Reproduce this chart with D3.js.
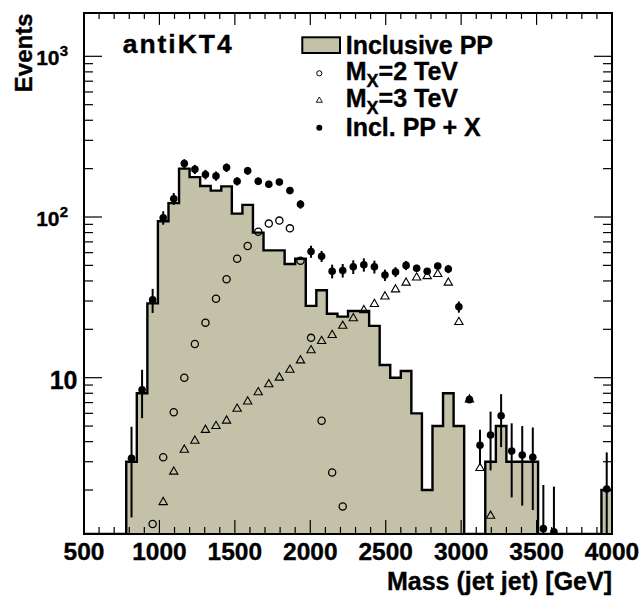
<!DOCTYPE html>
<html>
<head>
<meta charset="utf-8">
<script src="https://cdn.jsdelivr.net/npm/d3@7"></script>
<style>
  body { margin: 0; background: #fff; }
  text { font-family: 'Liberation Sans', Arial, sans-serif; font-weight: bold; fill: #000;
         stroke: #000; stroke-width: 0.35px; }
</style>
</head>
<body>
<div id="chart"></div>
<script>
// bin edges of the dijet mass histogram (GeV)
const massEdges = [500, 570, 640, 710, 780, 850, 920, 990, 1060, 1130,
    1200, 1270, 1340, 1410, 1480, 1550, 1620, 1690, 1760, 1830,
    1900, 1970, 2040, 2110, 2180, 2250, 2320, 2390, 2460, 2530,
    2600, 2670, 2740, 2810, 2880, 2950, 3020, 3090, 3160, 3230,
    3300, 3370, 3440, 3510, 3580, 3650, 3720, 3790, 3860, 3930, 4000]

// one value per bin, null = no marker
const inclusivePP = [0, 0, 0, 0, 3, 8, 29, 94, 122, 200,
    177, 156, 146, 155, 105, 119, 80, 62, 62, 51,
    55, 28, 35, 25, 24, 26, 26, 21, 12, 10,
    11, 6, 2, 5, 8, 5, 0, 0, 3, 5,
    3, 3, 3, 0, 0, 0, 0, 0, 0, 2]

const signal2TeV = [null, null, null, null, null, null, 1.23, 3.2, 6.1, 10,
    16.2, 22, 31, 41, 55, 66, 81, 91, 95, 85,
    53.5, 17.7, 5.4, 2.57, 1.58, null, null, null, null, null,
    null, null, null, null, null, null, null, null, null, null,
    null, null, null, null, null, null, null, null, null, null]

const signal3TeV = [null, null, null, null, null, null, null, 1.68, 2.6, 3.56,
    4.05, 4.73, 5.0, 5.4, 6.4, 7.1, 8.1, 9.1, 10, 11.2,
    12.8, 14.8, 16.9, 18.4, 21, 23.4, 26.3, 28.7, 32, 35.4,
    39, 42, 42.8, 44.1, 39, 22.2, 7.3, 2.74, 1.38, null,
    null, null, null, null, null, null, null, null, null, null]

const inclPlusX = [null, null, null, null, 3.15, 8.4, 30.5, 99, 130, 215,
    198, 184, 180, 203, 167, 194, 167, 160, 165, 146,
    120, 61, 57, 46, 46.5, 49, 50.5, 49, 43.5, 45.5,
    50, 48, 46, 49.6, 47.5, 27.6, 7.3, 3.8, 4.4, 5.8,
    3.5, 3.3, 3.2, 1.15, 1.1, null, null, null, null, 2.03]

const inclPlusXErr = [null, null, null, null, 1.8, 2.8, 5.2, 9.5, 11, 14,
    13, 12.5, 12, 12.5, 10, 11, 9, 8, 8, 7,
    7.4, 5.3, 4.5, 4.5, 4.5, 4.8, 4.8, 4.5, 3.5, 3.2,
    3.3, 2.4, 1.4, 2.2, 2.8, 2.2, 0, 0.95, 1.75, 2.1,
    1.7, 1.7, 1.7, 1.0, 1.0, null, null, null, null, 1.4]

const xTicks = [500, 1000, 1500, 2000, 2500, 3000, 3500, 4000]
const yTicks = [10, 100, 1000]
const yTickLabels = ['10', '10|2', '10|3']
const legendLabels = ['Inclusive PP', 'M|X|=2 TeV', 'M|X|=3 TeV', 'Incl. PP + X']

const fillColor = '#c4c1a9'

function drawChart(){
    // 1. Dimensions
    let dimensions = {
        width: 641,
        height: 596,
        margin: { top: 13, right: 29, bottom: 62, left: 84 }
    }
    dimensions.boundedWidth = dimensions.width - dimensions.margin.left - dimensions.margin.right
    dimensions.boundedHeight = dimensions.height - dimensions.margin.top - dimensions.margin.bottom
    const W = dimensions.boundedWidth, H = dimensions.boundedHeight

    // 2. Canvas
    const wrapper = d3.select('#chart').append('svg')
        .attr('width', dimensions.width)
        .attr('height', dimensions.height)
    wrapper.append('rect').attr('width', dimensions.width).attr('height', dimensions.height).attr('fill', '#fff')

    const bounds = wrapper.append('g')
        .attr('transform', `translate(${dimensions.margin.left},${dimensions.margin.top})`)

    bounds.append('clipPath').attr('id', 'frame-clip')
        .append('rect').attr('width', W).attr('height', H)

    // 3. Scales
    const yMin = 1.065, yMax = 1860
    const xScale = d3.scaleLinear().domain([500, 4000]).range([0, W])
    const yScale = d3.scaleLog().domain([yMin, yMax]).range([H, 0])
    const yOf = v => yScale(Math.max(v, yMin))
    const centerOf = i => (massEdges[i] + massEdges[i + 1]) / 2

    // 4. Histogram
    const steps = []
    inclusivePP.forEach((v, i) => {
        steps.push([massEdges[i], v])
        steps.push([massEdges[i + 1], v])
    })
    const plot = bounds.append('g').attr('clip-path', 'url(#frame-clip)')

    plot.append('path')
        .attr('d', d3.area().x(d => xScale(d[0])).y0(H).y1(d => yOf(d[1]))(steps))
        .attr('fill', fillColor)
    plot.append('path')
        .attr('d', d3.line().x(d => xScale(d[0])).y(d => yOf(d[1]))(steps))
        .attr('fill', 'none')
        .attr('stroke', '#000')
        .attr('stroke-width', 2.4)

    // 5. Signal markers
    const tri = d3.symbol().type(d3.symbolTriangle).size(30)
    const idx = arr => arr.map((v, i) => i).filter(i => arr[i] !== null)

    plot.selectAll('.sig2').data(idx(signal2TeV)).join('circle')
        .attr('cx', i => xScale(centerOf(i)))
        .attr('cy', i => yOf(signal2TeV[i]))
        .attr('r', 3.6)
        .attr('fill', 'none')
        .attr('stroke', '#000')
        .attr('stroke-width', 1.3)

    plot.selectAll('.sig3').data(idx(signal3TeV)).join('path')
        .attr('d', tri)
        .attr('transform', i => `translate(${xScale(centerOf(i))},${yOf(signal3TeV[i])})`)
        .attr('fill', 'none')
        .attr('stroke', '#000')
        .attr('stroke-width', 1.1)

    // 6. Incl. PP + X with error bars
    const sumIdx = idx(inclPlusX)
    plot.selectAll('.err').data(sumIdx).join('line')
        .attr('x1', i => xScale(centerOf(i)))
        .attr('x2', i => xScale(centerOf(i)))
        .attr('y1', i => yOf(inclPlusX[i] - inclPlusXErr[i]))
        .attr('y2', i => yOf(inclPlusX[i] + inclPlusXErr[i]))
        .attr('stroke', '#000')
        .attr('stroke-width', 2)
    plot.selectAll('.pt').data(sumIdx).join('circle')
        .attr('cx', i => xScale(centerOf(i)))
        .attr('cy', i => yOf(inclPlusX[i]))
        .attr('r', 3.8)
        .attr('fill', '#000')

    // 7. Frame and ticks (ROOT style, ticks inside)
    const ticks = bounds.append('g').attr('stroke', '#000').attr('stroke-width', 1.2)
    const xMinor = d3.range(500, 4001, 100)
    xMinor.forEach(m => {
        const len = m % 500 === 0 ? 14 : 7
        const x = xScale(m)
        ticks.append('line').attr('x1', x).attr('x2', x).attr('y1', H).attr('y2', H - len)
        ticks.append('line').attr('x1', x).attr('x2', x).attr('y1', 0).attr('y2', len * 0.85)
    })
    const yMinor = []
    ;[1, 10, 100, 1000].forEach(d => d3.range(1, 10).forEach(k => yMinor.push(d * k)))
    yMinor.filter(v => v >= yMin && v <= yMax).forEach(v => {
        const len = yTicks.includes(v) ? 18 : 9
        const y = yScale(v)
        ticks.append('line').attr('x1', 0).attr('x2', len).attr('y1', y).attr('y2', y)
        ticks.append('line').attr('x1', W).attr('x2', W - len).attr('y1', y).attr('y2', y)
    })

    bounds.append('rect')
        .attr('width', W).attr('height', H)
        .attr('fill', 'none')
        .attr('stroke', '#000')
        .attr('stroke-width', 2)

    // tick labels
    bounds.selectAll('.xlab').data(xTicks).join('text')
        .attr('x', d => xScale(d))
        .attr('y', H + 26)
        .attr('text-anchor', 'middle')
        .attr('font-size', 24.5)
        .text(d => d)

    yTicks.forEach((v, i) => {
        const parts = yTickLabels[i].split('|')
        const y = yScale(v)
        if (parts.length === 1) {
            bounds.append('text')
                .attr('x', -6.5).attr('y', y + 11.5)
                .attr('text-anchor', 'end')
                .attr('font-size', 25)
                .text(parts[0])
        } else {
            bounds.append('text')
                .attr('x', -24.5).attr('y', y + 8.5)
                .attr('text-anchor', 'end')
                .attr('font-size', 21)
                .text(parts[0])
            bounds.append('text')
                .attr('x', -24.3).attr('y', y - 0.5)
                .attr('font-size', 15)
                .text(parts[1])
        }
    })

    // axis titles
    wrapper.append('text')
        .attr('x', 612).attr('y', 590)
        .attr('text-anchor', 'end')
        .attr('font-size', 25)
        .text('Mass (jet jet) [GeV]')
    wrapper.append('text')
        .attr('transform', 'translate(32,13.5) rotate(-90)')
        .attr('text-anchor', 'end')
        .attr('font-size', 24)
        .text('Events')

    wrapper.append('text')
        .attr('x', 122.7).attr('y', 52.7)
        .attr('font-size', 26.5)
        .attr('textLength', 109)
        .text('antiKT4')

    // 8. Legend
    const legend = wrapper.append('g')
    const rowY = [54.3, 79.8, 107.3, 135.5]
    const markX = 319.3
    legend.append('rect')
        .attr('x', 302.3).attr('y', 37.3)
        .attr('width', 37.7).attr('height', 15.7)
        .attr('fill', fillColor)
        .attr('stroke', '#000')
        .attr('stroke-width', 2)
    legend.append('circle')
        .attr('cx', markX).attr('cy', 73.3).attr('r', 2.6)
        .attr('fill', 'none').attr('stroke', '#000').attr('stroke-width', 1)
    legend.append('path')
        .attr('d', d3.symbol().type(d3.symbolTriangle).size(16)())
        .attr('transform', `translate(${markX},100.5)`)
        .attr('fill', 'none').attr('stroke', '#000').attr('stroke-width', 0.9)
    legend.append('circle')
        .attr('cx', markX).attr('cy', 127.7).attr('r', 3)
        .attr('fill', '#000')

    legendLabels.forEach((lab, i) => {
        const parts = lab.split('|')
        const t = legend.append('text')
            .attr('x', 345.7).attr('y', rowY[i])
            .attr('font-size', 25)
        if (parts.length === 1) {
            t.text(lab)
        } else {
            t.append('tspan').text(parts[0])
            t.append('tspan').attr('dy', 7).attr('font-size', 18).text(parts[1])
            t.append('tspan').attr('dy', -7).text(parts[2])
        }
    })
}

drawChart()
</script>
</body>
</html>
